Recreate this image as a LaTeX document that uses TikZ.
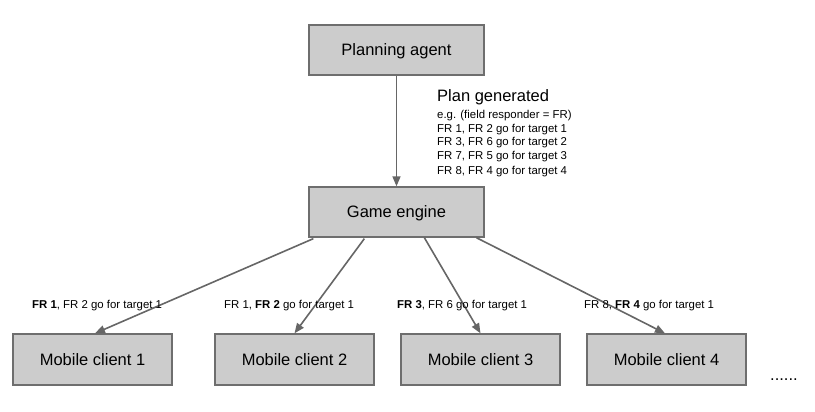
\documentclass[tikz,border=0pt]{standalone}
\usepackage{fontspec}
\setmainfont{Liberation Sans}
\usetikzlibrary{calc,arrows.meta}
\definecolor{boxfill}{HTML}{CCCCCC}
\definecolor{boxline}{HTML}{6E6E6E}
\definecolor{arrowcol}{HTML}{666666}
\tikzset{
  box/.style={draw=boxline, line width=1.3pt, fill=boxfill, rectangle, inner sep=0pt,
    font=\fontsize{16.5}{19}\selectfont, text height=11.8pt, text depth=0pt},
  bigbox/.style={box, minimum width=175pt, minimum height=50pt},
  clientbox/.style={box, minimum width=159pt, minimum height=51pt},
  conn/.style={draw=arrowcol, line width=1.6pt, -{Triangle[length=10pt,width=8pt]}},
  small/.style={font=\fontsize{11.4}{14}\selectfont, inner sep=0pt, anchor=base west},
  big/.style={font=\fontsize{16.5}{19}\selectfont, inner sep=0pt, anchor=base west}
}
\begin{document}
\begin{tikzpicture}[x=1pt,y=-1pt]
\useasboundingbox (0,0) rectangle (815,412);
\node[bigbox] (plan) at (396.5,50) {Planning agent};
\node[bigbox] (game) at (396.5,212) {Game engine};
\node[clientbox] (mc1) at (92.5,359.5) {Mobile client 1};
\node[clientbox] (mc2) at (294.5,359.5) {Mobile client 2};
\node[clientbox] (mc3) at (480.5,359.5) {Mobile client 3};
\node[clientbox] (mc4) at (666.5,359.5) {Mobile client 4};
\node[big] (dots) at (770,380) {......};

\node[big] (pg0) at (437,102) {Plan generated};
\node[small] (pg1) at (437,118) {e.g. (field responder = FR)};
\node[small] (pg2) at (437,132) {FR 1, FR 2 go for target 1};
\node[small] (pg3) at (437,146) {FR 3, FR 6 go for target 2};
\node[small] (pg4) at (437,160) {FR 7, FR 5 go for target 3};
\node[small] (pg5) at (437,174) {FR 8, FR 4 go for target 4};

\coordinate (g1) at ($(game.south west)+(5,1)$);
\coordinate (g2) at ($(game.south west)+(56,1)$);
\coordinate (g3) at ($(game.south west)+(116,0)$);
\coordinate (g4) at ($(game.south west)+(168,0)$);

\draw[conn] (plan.south) -- (game.north);
\draw[conn] (g1) -- ($(mc1.north)+(2.5,0)$);
\draw[conn] (g2) -- (mc2.north);
\draw[conn] (g3) -- (mc3.north);
\draw[conn] (g4) -- ($(mc4.north)+(-1.5,0)$);

\node[small] (l1) at (32,308) {\textbf{FR 1}, FR 2 go for target 1};
\node[small] (l2) at (224,308) {FR 1, \textbf{FR 2} go for target 1};
\node[small] (l3) at (397,308) {\textbf{FR 3}, FR 6 go for target 1};
\node[small] (l4) at (584,308) {FR 8, \textbf{FR 4} go for target 1};
\end{tikzpicture}
\end{document}
